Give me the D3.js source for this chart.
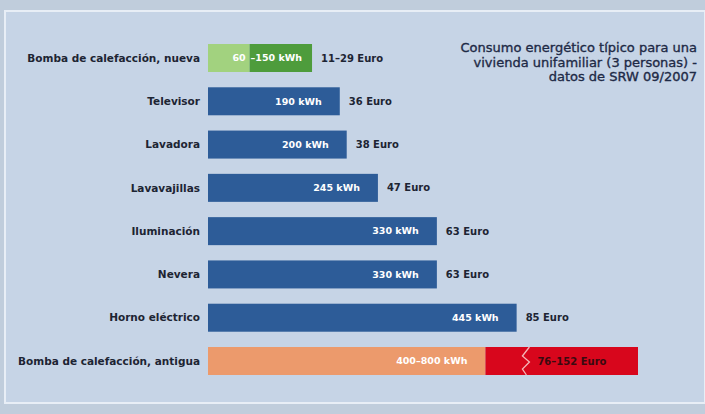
<!DOCTYPE html>
<html><head><meta charset="utf-8">
<script src="https://cdn.jsdelivr.net/npm/d3@7"></script>
<style>
html,body{margin:0;padding:0;background:#c0cddc;}
svg{display:block;}
text{font-family:"DejaVu Sans","Open Sans",sans-serif;}
</style></head>
<body>
<svg id="c" width="705" height="414"></svg>
<script>
// Data
const categories = ["Bomba de calefacción, nueva","Televisor","Lavadora","Lavavajillas","Iluminación","Nevera","Horno eléctrico","Bomba de calefacción, antigua"];
const kwhLow  = [60, 190, 200, 245, 330, 330, 445, 400];
const kwhHigh = [150, 190, 200, 245, 330, 330, 445, 800];
const kwhLabels = ["–150 kWh","190 kWh","200 kWh","245 kWh","330 kWh","330 kWh","445 kWh","400–800 kWh"];
const lowLabels = ["60","","","","","","",""];
const euroLabels = ["11–29 Euro","36 Euro","38 Euro","47 Euro","63 Euro","63 Euro","85 Euro","76–152 Euro"];
const titleLines = ["Consumo energético típico para una","vivienda unifamiliar (3 personas) -","datos de SRW 09/2007"];

const svg = d3.select("#c");
const W = 705, H = 414;

// panel
svg.append("rect").attr("x",0).attr("y",0).attr("width",W).attr("height",H).attr("fill","#c0cddc");
svg.append("rect").attr("x",5).attr("y",11).attr("width",W-5).attr("height",H-22)
  .attr("fill","#c6d4e6").attr("stroke","#e8eef6").attr("stroke-width",2);

const x = d3.scaleLinear().domain([0, 620]).range([208, 638]);
const y = d3.scalePoint().domain(categories).range([58, 361]);
const bh = 28;
const idx = d3.range(categories.length);

const blue = "#2d5c98";
function lowColor(i){ return i===0 ? "#a2d27f" : (i===7 ? "#ec9a6c" : blue); }
function highColor(i){ return i===0 ? "#4e9c3c" : "#d8061c"; }

// low segment (or full bar)
svg.append("g").selectAll("rect").data(idx).join("rect")
  .attr("x", x(0))
  .attr("y", i => y(categories[i]) - bh/2)
  .attr("width", i => x(kwhLow[i]) - x(0))
  .attr("height", bh)
  .attr("fill", i => lowColor(i));

// high segment (ranges)
const rng = idx.filter(i => kwhHigh[i] > kwhLow[i]);
svg.append("g").selectAll("rect").data(rng).join("rect")
  .attr("x", i => x(kwhLow[i]))
  .attr("y", i => y(categories[i]) - bh/2)
  .attr("width", i => x(Math.min(kwhHigh[i], x.domain()[1])) - x(kwhLow[i]))
  .attr("height", bh)
  .attr("fill", i => highColor(i));

// break mark on truncated bar
const trunc = rng.filter(i => kwhHigh[i] > x.domain()[1]);
svg.append("g").selectAll("path").data(trunc).join("path")
  .attr("d", i => {
    const cx = x(kwhLow[i]) + 40, cy = y(categories[i]);
    return `M${cx+4},${cy-14} L${cx-3},${cy-5} L${cx+4},${cy+1} L${cx-3},${cy+8} L${cx+1},${cy+14}`;
  })
  .attr("fill","none").attr("stroke","#f4b6b8").attr("stroke-width",1.3);

// category labels
svg.append("g").selectAll("text").data(idx).join("text")
  .attr("x", 200).attr("y", i => y(categories[i]))
  .attr("dy","0.35em").attr("text-anchor","end")
  .attr("font-size", 10.5).attr("font-weight", 700).attr("fill","#1d2433")
  .text(i => categories[i]);

// kWh labels inside bars
svg.append("g").selectAll("text").data(idx).join("text")
  .attr("x", i => (i===7 ? x(kwhLow[i]) : x(Math.min(kwhHigh[i], x.domain()[1]))) - (i===0 ? 10 : 18))
  .attr("y", i => y(categories[i]))
  .attr("dy","0.35em").attr("text-anchor","end")
  .attr("font-size", 9.5).attr("font-weight", 700).attr("fill","#ffffff")
  .text(i => kwhLabels[i]);

// low labels (light segment)
svg.append("g").selectAll("text").data(idx.filter(i => lowLabels[i])).join("text")
  .attr("x", i => x(kwhLow[i]) - 4).attr("y", i => y(categories[i]))
  .attr("dy","0.35em").attr("text-anchor","end")
  .attr("font-size", 9.5).attr("font-weight", 700).attr("fill","#ffffff")
  .text(i => lowLabels[i]);

// euro labels
svg.append("g").selectAll("text").data(idx).join("text")
  .attr("x", i => i===7 ? x(kwhLow[i]) + 52 : x(Math.min(kwhHigh[i], x.domain()[1])) + 9)
  .attr("y", i => y(categories[i]))
  .attr("dy","0.35em").attr("text-anchor","start")
  .attr("font-size", 10).attr("font-weight", 700)
  .attr("fill", i => i===7 ? "#3a0a10" : "#1d2433")
  .text(i => euroLabels[i]);

// title
svg.append("g").selectAll("text").data(titleLines).join("text")
  .attr("x", 697).attr("y", (d,i) => 52 + i*14.5)
  .attr("text-anchor","end").attr("font-size", 13)
  .attr("fill","#1e2a46").attr("stroke","#1e2a46").attr("stroke-width",0.35)
  .text(d => d);
</script>
</body></html>
